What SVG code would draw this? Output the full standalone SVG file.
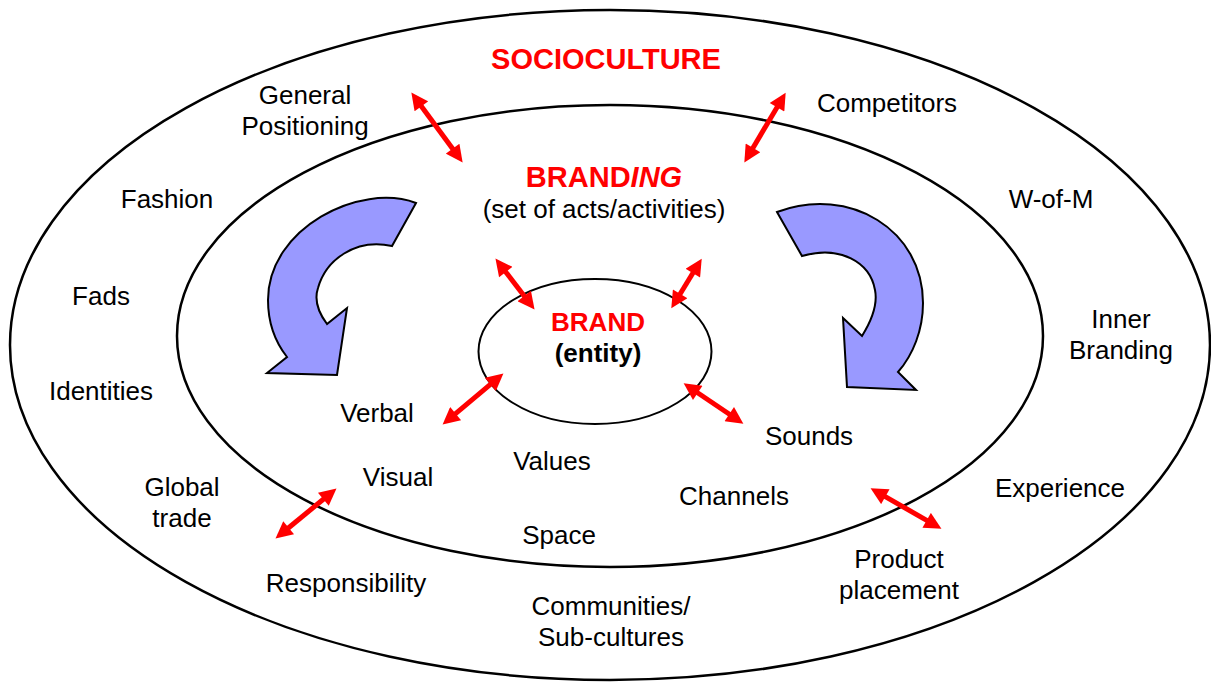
<svg xmlns="http://www.w3.org/2000/svg" width="1211" height="682" viewBox="0 0 1211 682">
<defs>
<style>
.ring{fill:none;stroke:#000;stroke-width:2.5}
.t{font-family:"Liberation Sans",Arial,sans-serif;font-size:26px;fill:#000;text-anchor:middle}
.h{font-family:"Liberation Sans",Arial,sans-serif;font-weight:bold;fill:#ff0000;text-anchor:middle}
.b{font-family:"Liberation Sans",Arial,sans-serif;font-weight:bold;font-size:26px;fill:#000;text-anchor:middle}
.ra{stroke:#ff0000;stroke-width:5;fill:none;marker-start:url(#ah);marker-end:url(#ah)}
.ca{fill:#9999ff;stroke:#000;stroke-width:2;stroke-linejoin:miter}
</style>
<marker id="ah" viewBox="0 0 10 10" refX="3" refY="5" markerWidth="19" markerHeight="17" markerUnits="userSpaceOnUse" orient="auto-start-reverse">
<path d="M0,0 L10,5 L0,10 Z" fill="#ff0000"/>
</marker>
</defs>
<rect width="1211" height="682" fill="#fff"/>
<g id="socioculture">
<ellipse class="ring" cx="610" cy="345" rx="600" ry="335"/>
<text class="h" x="606" y="69" font-size="29">SOCIOCULTURE</text>
</g>
<g id="branding">
<ellipse class="ring" cx="610" cy="336" rx="433" ry="231"/>
<text class="h" x="604" y="187" font-size="29">BRAND<tspan font-style="italic">ING</tspan></text>
<text class="t" x="604" y="218">(set of acts/activities)</text>
</g>
<g id="brand">
<ellipse class="ring" cx="595" cy="351.5" rx="116.5" ry="72.5" style="stroke-width:2"/>
<text class="h" x="598" y="331" font-size="26">BRAND</text>
<text class="b" x="598" y="362">(entity)</text>
</g>
<g id="cycle-arrows">
<path class="ca" d="M416,203 C360,182 268,228 268,300 C268,325 276,343 287,357 L267,373 L337,375 L347,308 L327,324 C318,312 314,300 318,288 C326,260 355,238 392,246 Z"/>
<path class="ca" d="M777,212 C850,185 923,230 923,303 C923,330 913,355 898,372 L916,390 L847,387 L843,318 L862,336 C872,320 878,305 875,290 C870,262 840,245 802,256 Z"/>
</g>
<g id="connectors">
<line class="ra" x1="418.4" y1="102.2" x2="455.6" y2="152.8"/>
<line class="ra" x1="779.6" y1="102.9" x2="750.4" y2="152.2"/>
<line class="ra" x1="502.7" y1="268" x2="527.3" y2="300"/>
<line class="ra" x1="695.5" y1="268.8" x2="677.5" y2="298.2"/>
<line class="ra" x1="451.7" y1="416.9" x2="494.3" y2="381.1"/>
<line class="ra" x1="693.5" y1="390" x2="733.5" y2="417"/>
<line class="ra" x1="284.7" y1="531" x2="327.3" y2="496"/>
<line class="ra" x1="880.9" y1="494.2" x2="931.1" y2="522.8"/>
</g>
<g id="outer-labels">
<text class="t" x="305" y="104">General</text>
<text class="t" x="305" y="135">Positioning</text>
<text class="t" x="887" y="112">Competitors</text>
<text class="t" x="167" y="208">Fashion</text>
<text class="t" x="1051" y="208">W-of-M</text>
<text class="t" x="101" y="305">Fads</text>
<text class="t" x="1121" y="328">Inner</text>
<text class="t" x="1121" y="359">Branding</text>
<text class="t" x="101" y="400">Identities</text>
<text class="t" x="182" y="496">Global</text>
<text class="t" x="182" y="527">trade</text>
<text class="t" x="1060" y="497">Experience</text>
<text class="t" x="346" y="592">Responsibility</text>
<text class="t" x="899" y="568">Product</text>
<text class="t" x="899" y="599">placement</text>
<text class="t" x="611" y="615">Communities/</text>
<text class="t" x="611" y="646">Sub-cultures</text>
</g>
<g id="inner-labels">
<text class="t" x="377" y="422">Verbal</text>
<text class="t" x="398" y="486">Visual</text>
<text class="t" x="552" y="470">Values</text>
<text class="t" x="809" y="445">Sounds</text>
<text class="t" x="734" y="505">Channels</text>
<text class="t" x="559" y="544">Space</text>
</g>
</svg>
